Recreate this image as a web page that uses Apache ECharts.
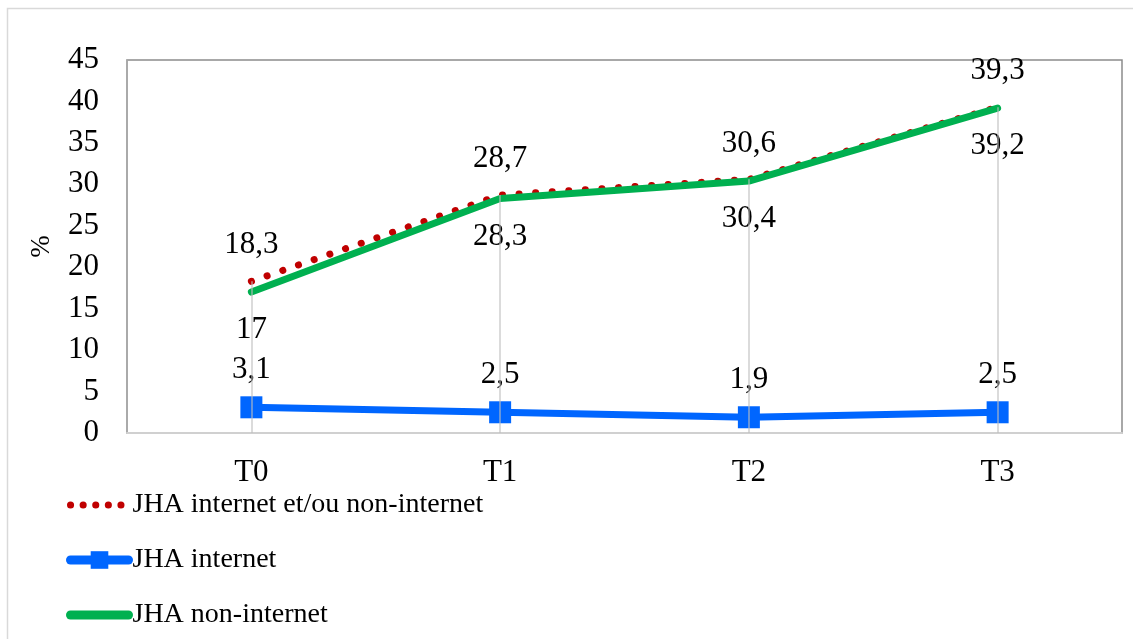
<!DOCTYPE html>
<html>
<head>
<meta charset="utf-8">
<script src="https://cdn.jsdelivr.net/npm/echarts@6/dist/echarts.min.js"></script>
<style>
  html, body { margin: 0; padding: 0; background: #fff; }
  #chart { width: 1133px; height: 639px; }
</style>
</head>
<body>
<div id="chart"></div>
<script>
// Time points and the three prevalence series (%)
const categories = ['T0', 'T1', 'T2', 'T3'];
const jhaAny = [18.3, 28.7, 30.6, 39.3];
const jhaInternet = [3.1, 2.5, 1.9, 2.5];
const jhaNonInternet = [17, 28.3, 30.4, 39.2];
const seriesNames = ['JHA internet et/ou non-internet', 'JHA internet', 'JHA non-internet'];
const yAxisName = '%';

const FONT = '"Liberation Serif", "Times New Roman", serif';
const fmt = p => String(p.value).replace('.', ',');
const HIDDEN = 'rgba(0,0,0,0)';

const RED = '#c00000', BLUE = '#0066ff', GREEN = '#00b050';

// drop lines from the highest value at each time point down to the axis
const dropLines = categories.map((c, i) => {
  const top = Math.max(jhaAny[i], jhaInternet[i], jhaNonInternet[i]);
  return [{ coord: [c, top] }, { coord: [c, 0] }];
});

const labelStyle = { fontFamily: FONT, fontSize: 31, color: '#000' };

const chart = echarts.init(document.getElementById('chart'));
chart.setOption({
  animation: false,
  backgroundColor: '#fff',
  textStyle: { fontFamily: FONT, color: '#000' },
  graphic: [{
    type: 'rect', silent: true, z: -10,
    shape: { x: 7.5, y: 8.5, width: 1200, height: 700 },
    style: { fill: 'none', stroke: '#d9d9d9', lineWidth: 1.5 }
  }],
  grid: {
    left: 127, right: 11, top: 60, bottom: 206,
    show: true, borderColor: '#8c8c8c', borderWidth: 1.5, backgroundColor: 'transparent'
  },
  legend: {
    orient: 'vertical',
    left: 66, top: 491,
    padding: 0,
    itemWidth: 58, itemHeight: 22, itemGap: 27,
    textStyle: { fontFamily: FONT, fontSize: 28, color: '#000', padding: [0, 0, 0, -1] },
    data: [
      { name: seriesNames[0], lineStyle: { color: RED, width: 7, type: [0.1, 12.5], cap: 'round' } },
      { name: seriesNames[1], lineStyle: { color: BLUE, width: 9, cap: 'round' }, itemStyle: { color: BLUE } },
      { name: seriesNames[2], lineStyle: { color: GREEN, width: 9, cap: 'round' } }
    ]
  },
  xAxis: {
    type: 'category',
    data: categories,
    boundaryGap: true,
    axisLine: { show: true, lineStyle: { color: '#d0d0d0', width: 2 } },
    axisTick: { show: false },
    splitLine: { show: false },
    axisLabel: { fontFamily: FONT, fontSize: 31, color: '#000', margin: 24 }
  },
  yAxis: {
    type: 'value',
    min: 0, max: 45, interval: 5,
    name: yAxisName,
    nameLocation: 'middle',
    nameGap: 72,
    nameRotate: 90,
    nameTextStyle: { fontFamily: FONT, fontSize: 27, color: '#000' },
    axisLine: { show: true, lineStyle: { color: '#ababab', width: 1.5 } },
    axisTick: { show: false },
    splitLine: { show: false },
    axisLabel: { fontFamily: FONT, fontSize: 31, color: '#000', margin: 28 }
  },
  series: [
    {
      name: seriesNames[0],
      type: 'line',
      data: jhaAny,
      z: 2,
      symbol: 'circle', symbolSize: 1,
      itemStyle: { color: HIDDEN },
      lineStyle: { color: RED, width: 7, type: [0.1, 16.5], cap: 'round' },
      label: Object.assign({ show: true, position: 'top', distance: 20, formatter: fmt }, labelStyle)
    },
    {
      name: seriesNames[1],
      type: 'line',
      data: jhaInternet,
      z: 3,
      symbol: 'rect', symbolSize: 22,
      itemStyle: { color: BLUE },
      lineStyle: { color: BLUE, width: 7 },
      label: Object.assign({ show: true, position: 'top', distance: 11, formatter: fmt }, labelStyle)
    },
    {
      name: seriesNames[2],
      type: 'line',
      data: jhaNonInternet,
      z: 4,
      symbol: 'circle', symbolSize: 1,
      itemStyle: { color: HIDDEN },
      lineStyle: { color: GREEN, width: 7, cap: 'round' },
      label: Object.assign({ show: true, position: 'bottom', distance: 22, formatter: fmt }, labelStyle),
      markLine: {
        silent: true,
        symbol: 'none',
        label: { show: false },
        z: 5,
        lineStyle: { color: 'rgba(190,190,190,0.55)', width: 2, type: 'solid' },
        data: dropLines
      }
    }
  ]
});
</script>
</body>
</html>
